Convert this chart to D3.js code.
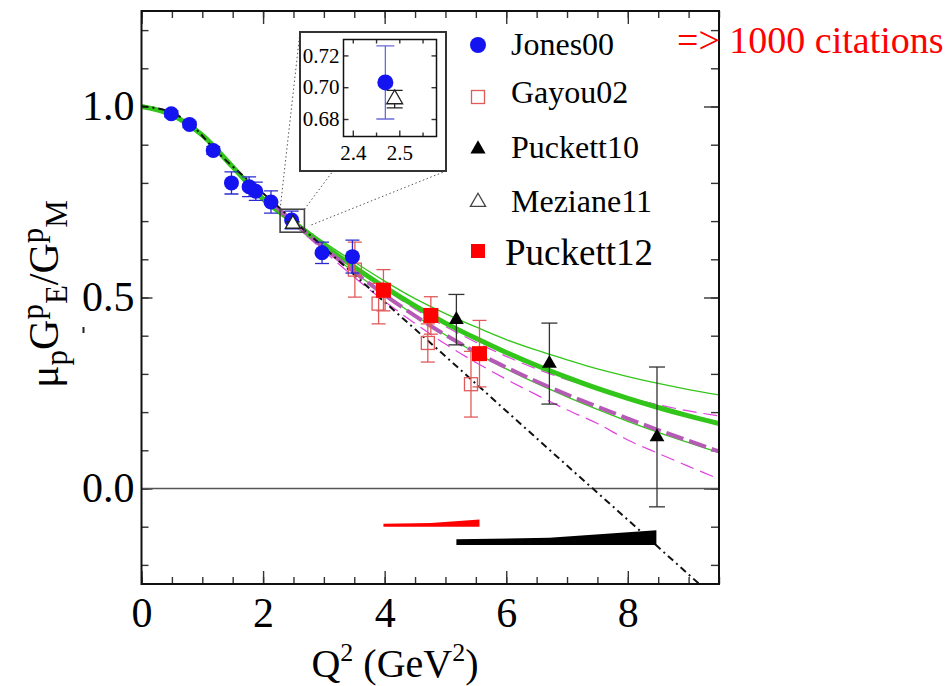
<!DOCTYPE html>
<html>
<head>
<meta charset="utf-8">
<script src="https://cdn.jsdelivr.net/npm/d3@7"></script>
<style>
body { margin: 0; background: #fff; }
svg { display: block; }
</style>
</head>
<body>
<div id="chart"></div>
<script>
// ---- data ----
const jonesQ2  = [0.49, 0.79, 1.18, 1.48, 1.77, 1.88, 2.13, 2.47, 2.97, 3.47];
const jonesR   = [0.981, 0.953, 0.885, 0.800, 0.790, 0.778, 0.750, 0.703, 0.617, 0.607];
const jonesErr = [0.008, 0.008, 0.010, 0.029, 0.026, 0.024, 0.029, 0.023, 0.028, 0.043];

const gayouQ2  = [3.51, 3.90, 4.71, 5.42];
const gayouR   = [0.573, 0.484, 0.381, 0.273];
const gayouErr = [0.072, 0.053, 0.050, 0.086];

const puck10Q2  = [5.18, 6.71, 8.48];
const puck10R   = [0.442, 0.327, 0.135];
const puck10Err = [0.066, 0.106, 0.183];

const mezQ2  = [2.49];
const mezR   = [0.6925];
const mezErr = [0.0055];

const puck12Q2  = [3.98, 4.76, 5.56];
const puck12R   = [0.519, 0.453, 0.353];
const puck12Err = [0.054, 0.049, 0.087];

// curves
const fitQ2      = [0, 0.5, 1, 1.5, 2, 2.5, 3, 3.5, 4, 4.5, 5, 5.5, 6, 6.5, 7, 7.5, 8, 8.5, 9, 9.5];
const greenFit   = [1.0, 0.978, 0.925, 0.842, 0.758, 0.697, 0.636, 0.580, 0.527, 0.478, 0.433, 0.393, 0.356, 0.322, 0.291, 0.262, 0.236, 0.212, 0.190, 0.170];
const greenUpper = [1.0, 0.978, 0.926, 0.845, 0.762, 0.703, 0.645, 0.593, 0.543, 0.497, 0.458, 0.423, 0.390, 0.362, 0.337, 0.313, 0.293, 0.275, 0.259, 0.245];
const greenLower = [1.0, 0.978, 0.924, 0.839, 0.754, 0.691, 0.627, 0.566, 0.508, 0.453, 0.402, 0.355, 0.313, 0.275, 0.240, 0.207, 0.176, 0.147, 0.120, 0.094];

const magQ2      = [2.2, 2.5, 3, 3.5, 4, 4.5, 5, 5.5, 6, 6.5, 7, 7.5, 8, 8.5, 9, 9.5];
const magFit     = [0.740, 0.697, 0.630, 0.567, 0.507, 0.452, 0.402, 0.357, 0.317, 0.280, 0.246, 0.214, 0.183, 0.153, 0.125, 0.097];
const magUpper   = [0.742, 0.700, 0.636, 0.577, 0.522, 0.470, 0.424, 0.383, 0.346, 0.313, 0.285, 0.260, 0.238, 0.219, 0.203, 0.190];
const magLower   = [0.738, 0.693, 0.622, 0.553, 0.490, 0.432, 0.378, 0.330, 0.286, 0.245, 0.206, 0.170, 0.127, 0.092, 0.058, 0.025];

const linQ2 = [0, 0.4, 0.8, 1.2, 2, 3, 4, 5, 6, 7, 8, 9, 9.5];
const linR  = [1.0, 0.990, 0.955, 0.888, 0.773, 0.631, 0.488, 0.346, 0.203, 0.060, -0.082, -0.225, -0.296];

// systematic bands
const redBandQ2  = [3.98, 4.76, 5.56];
const redBandTop = [-0.092, -0.090, -0.081];
const redBandBot = [-0.100, -0.100, -0.100];
const blkBandQ2  = [5.18, 6.71, 8.47];
const blkBandTop = [-0.133, -0.129, -0.109];
const blkBandBot = [-0.148, -0.148, -0.148];

// ticks
const xMajor = [0, 2, 4, 6, 8];
const xMinor = d3.range(0, 9.51, 0.5);
const yMajor = [0, 0.5, 1.0];
const yMinor = d3.range(-0.2, 1.21, 0.1);
const insetYTicks = [0.68, 0.70, 0.72];
const insetXTicks = [2.4, 2.5];
const insetXMinor = [2.45, 2.55];

const legendLabels = ["Jones00", "Gayou02", "Puckett10", "Meziane11", "Puckett12"];
const note = "=> 1000 citations";

// zoomed region and inset ranges
const zoomBoxQ2 = [2.28, 2.68];
const zoomBoxR  = [0.671, 0.731];
const insetQ2 = [2.38, 2.58];
const insetR  = [0.669, 0.73];

// ---- drawing ----
const SERIF = "Liberation Serif";
const W = 949, H = 686;
const svg = d3.select("#chart").append("svg")
    .attr("width", W)
    .attr("height", H)
    .attr("font-family", SERIF);

const x = d3.scaleLinear().domain([0, 9.5]).range([141.5, 719]);
const y = d3.scaleLinear().domain([-0.25, 1.25]).range([584, 11]);

const BLUE = "#1414f0", RED = "#ff0000", PINK = "#e05a5a";
const GREEN = "#33c61a", MAG = "#e040e0", MAGDK = "#b55ab5";

svg.append("clipPath").attr("id", "plotclip")
    .append("rect")
    .attr("x", x(0)).attr("y", y(1.25))
    .attr("width", x(9.5) - x(0)).attr("height", y(-0.25) - y(1.25));

// axes
function styleAxis(g) {
    g.attr("font-family", SERIF);
    g.select(".domain").remove();
    g.selectAll(".tick line").attr("stroke", "#333").attr("stroke-width", 1.4);
    g.selectAll("text").attr("fill", "#000").attr("font-family", SERIF);
}

svg.append("g").attr("transform", `translate(0,${y(-0.25)})`)
    .call(d3.axisBottom(x).tickValues(xMinor).tickSize(-7).tickFormat(""))
    .call(styleAxis);
svg.append("g").attr("transform", `translate(0,${y(-0.25)})`)
    .call(d3.axisBottom(x).tickValues(xMajor).tickSize(-13).tickPadding(13).tickFormat(d3.format("d")))
    .call(styleAxis)
    .selectAll("text").attr("font-size", 42);
svg.append("g").attr("transform", `translate(0,${y(1.25)})`)
    .call(d3.axisTop(x).tickValues(xMinor).tickSize(-7).tickFormat(""))
    .call(styleAxis);
svg.append("g").attr("transform", `translate(0,${y(1.25)})`)
    .call(d3.axisTop(x).tickValues(xMajor).tickSize(-13).tickFormat(""))
    .call(styleAxis);

svg.append("g").attr("transform", `translate(${x(0)},0)`)
    .call(d3.axisLeft(y).tickValues(yMinor).tickSize(-7).tickFormat(""))
    .call(styleAxis);
svg.append("g").attr("transform", `translate(${x(0)},0)`)
    .call(d3.axisLeft(y).tickValues(yMajor).tickSize(-11).tickPadding(7).tickFormat(d3.format(".1f")))
    .call(styleAxis)
    .selectAll("text").attr("font-size", 42);
svg.append("g").attr("transform", `translate(${x(9.5)},0)`)
    .call(d3.axisRight(y).tickValues(yMinor).tickSize(-8).tickFormat(""))
    .call(styleAxis);
svg.append("g").attr("transform", `translate(${x(9.5)},0)`)
    .call(d3.axisRight(y).tickValues(yMajor).tickSize(-15).tickFormat(""))
    .call(styleAxis);

// zero line
svg.append("line")
    .attr("x1", x(0)).attr("x2", x(9.5))
    .attr("y1", y(0)).attr("y2", y(0))
    .attr("stroke", "#555").attr("stroke-width", 1.3);

// curves
const plot = svg.append("g").attr("clip-path", "url(#plotclip)");

function curve(q2, r, stroke, width, dash) {
    const line = d3.line()
        .x((d, i) => x(q2[i]))
        .y(d => y(d))
        .curve(d3.curveMonotoneX);
    plot.append("path")
        .datum(r)
        .attr("fill", "none")
        .attr("stroke", stroke)
        .attr("stroke-width", width)
        .attr("stroke-dasharray", dash || null)
        .attr("d", line);
}

curve(fitQ2, greenUpper, GREEN, 1.3);
curve(fitQ2, greenLower, GREEN, 1.3);
curve(magQ2, magUpper, MAG, 1.2, "14,7");
curve(magQ2, magLower, MAG, 1.2, "14,7");
curve(fitQ2, greenFit, GREEN, 5);
curve(magQ2, magFit, MAGDK, 4, "18,6");
curve(linQ2, linR, "#111", 2, "7,4,2,4");

// bands
function band(q2, top, bot, fill) {
    const area = d3.area()
        .x((d, i) => x(q2[i]))
        .y0((d, i) => y(bot[i]))
        .y1(d => y(d));
    plot.append("path").datum(top).attr("fill", fill).attr("d", area);
}
band(redBandQ2, redBandTop, redBandBot, RED);
band(blkBandQ2, blkBandTop, blkBandBot, "#000");

// markers
const tri = d3.symbol().type(d3.symbolTriangle);

function series(g, xs, ys, q2, r, err, o) {
    const s = g.append("g");
    q2.forEach((q, i) => {
        const cx = xs(q);
        s.append("line")
            .attr("x1", cx).attr("x2", cx)
            .attr("y1", ys(r[i] - err[i])).attr("y2", ys(r[i] + err[i]))
            .attr("stroke", o.err).attr("stroke-width", 1.3);
        [r[i] - err[i], r[i] + err[i]].forEach(v => {
            s.append("line")
                .attr("x1", cx - o.cap).attr("x2", cx + o.cap)
                .attr("y1", ys(v)).attr("y2", ys(v))
                .attr("stroke", o.err).attr("stroke-width", 1.3);
        });
    });
    q2.forEach((q, i) => marker(s, xs(q), ys(r[i]), o));
}

function marker(s, cx, cy, o) {
    if (o.shape === "circle") {
        s.append("circle").attr("cx", cx).attr("cy", cy).attr("r", o.size).attr("fill", o.fill);
    } else if (o.shape === "square") {
        s.append("rect")
            .attr("x", cx - o.size).attr("y", cy - o.size)
            .attr("width", 2 * o.size).attr("height", 2 * o.size)
            .attr("fill", o.fill)
            .attr("stroke", o.stroke || "none")
            .attr("stroke-width", 1.3);
    } else {
        s.append("path")
            .attr("transform", `translate(${cx},${cy})`)
            .attr("d", tri.size(o.size)())
            .attr("fill", o.fill)
            .attr("stroke", o.stroke || "none")
            .attr("stroke-width", 1.3);
    }
}

const optJones  = {shape: "circle", size: 7.5, fill: BLUE, err: "#2a2ad0", cap: 7};
const optGayou  = {shape: "square", size: 6.5, fill: "none", stroke: PINK, err: PINK, cap: 7};
const optPuck10 = {shape: "tri", size: 95, fill: "#000", err: "#333", cap: 8};
const optMez    = {shape: "tri", size: 95, fill: "#fff", stroke: "#222", err: "#222", cap: 7};
const optPuck12 = {shape: "square", size: 7.5, fill: RED, err: PINK, cap: 7};

series(plot, x, y, gayouQ2, gayouR, gayouErr, optGayou);
series(plot, x, y, puck12Q2, puck12R, puck12Err, optPuck12);
series(plot, x, y, puck10Q2, puck10R, puck10Err, optPuck10);
series(plot, x, y, jonesQ2, jonesR, jonesErr, optJones);
series(plot, x, y, mezQ2, mezR, mezErr, optMez);

// frame
svg.append("rect")
    .attr("x", x(0)).attr("y", y(1.25))
    .attr("width", x(9.5) - x(0)).attr("height", y(-0.25) - y(1.25))
    .attr("fill", "none").attr("stroke", "#111").attr("stroke-width", 2);

// ---- zoom box and inset ----
const inset = {x0: 300, y0: 32, x1: 446, y1: 171};
const ix = d3.scaleLinear().domain(insetQ2).range([343.5, 436.5]);
const iy = d3.scaleLinear().domain(insetR).range([136.5, 39.5]);

svg.append("rect")
    .attr("x", x(zoomBoxQ2[0])).attr("y", y(zoomBoxR[1]))
    .attr("width", x(zoomBoxQ2[1]) - x(zoomBoxQ2[0]))
    .attr("height", y(zoomBoxR[0]) - y(zoomBoxR[1]))
    .attr("fill", "none").attr("stroke", "#444").attr("stroke-width", 1.6);

const links = [
    [x(zoomBoxQ2[0]), y(zoomBoxR[1]), inset.x0, inset.y0],
    [x(zoomBoxQ2[1]), y(zoomBoxR[1]), 333, inset.y1],
    [x(zoomBoxQ2[1]) + 7, y(0.69), inset.x1, inset.y1]
];
svg.append("g").selectAll("line").data(links).join("line")
    .attr("x1", d => d[0]).attr("y1", d => d[1])
    .attr("x2", d => d[2]).attr("y2", d => d[3])
    .attr("stroke", "#555").attr("stroke-width", 1)
    .attr("stroke-dasharray", "1.5,2.5");

const ig = svg.append("g");
ig.append("rect")
    .attr("x", inset.x0).attr("y", inset.y0)
    .attr("width", inset.x1 - inset.x0).attr("height", inset.y1 - inset.y0)
    .attr("fill", "#fff").attr("stroke", "#333").attr("stroke-width", 2);

ig.append("clipPath").attr("id", "insetclip")
    .append("rect")
    .attr("x", ix.range()[0]).attr("y", iy.range()[1])
    .attr("width", ix.range()[1] - ix.range()[0])
    .attr("height", iy.range()[0] - iy.range()[1]);

function insetAxes(g) {
    g.append("g").attr("transform", `translate(0,${iy.range()[0]})`)
        .call(d3.axisBottom(ix).tickValues(insetXTicks).tickSize(-6).tickPadding(9).tickFormat(d3.format(".1f")))
        .call(styleAxis).selectAll("text").attr("font-size", 21);
    g.append("g").attr("transform", `translate(0,${iy.range()[0]})`)
        .call(d3.axisBottom(ix).tickValues(insetXMinor).tickSize(-4).tickFormat(""))
        .call(styleAxis);
    g.append("g").attr("transform", `translate(0,${iy.range()[1]})`)
        .call(d3.axisTop(ix).tickValues(insetXTicks.concat(insetXMinor)).tickSize(-4).tickFormat(""))
        .call(styleAxis);
    g.append("g").attr("transform", `translate(${ix.range()[0]},0)`)
        .call(d3.axisLeft(iy).tickValues(insetYTicks).tickSize(-5).tickPadding(4).tickFormat(d3.format(".2f")))
        .call(styleAxis).selectAll("text").attr("font-size", 21);
    g.append("g").attr("transform", `translate(${ix.range()[1]},0)`)
        .call(d3.axisRight(iy).tickValues(insetYTicks).tickSize(-5).tickFormat(""))
        .call(styleAxis);
}
insetAxes(ig);

const iplot = ig.append("g").attr("clip-path", "url(#insetclip)");
series(iplot, ix, iy, jonesQ2, jonesR, jonesErr, Object.assign({}, optJones, {size: 8, err: "#6b6bd6", cap: 9}));
series(iplot, ix, iy, mezQ2, mezR, mezErr, Object.assign({}, optMez, {size: 110, cap: 8}));

ig.append("rect")
    .attr("x", ix.range()[0]).attr("y", iy.range()[1])
    .attr("width", ix.range()[1] - ix.range()[0])
    .attr("height", iy.range()[0] - iy.range()[1])
    .attr("fill", "none").attr("stroke", "#111").attr("stroke-width", 1.5);

// ---- legend ----
const legendOpts = [
    {shape: "circle", size: 8, fill: BLUE},
    {shape: "square", size: 6.5, fill: "none", stroke: PINK},
    {shape: "tri", size: 100, fill: "#000"},
    {shape: "tri", size: 100, fill: "#fff", stroke: "#444"},
    {shape: "square", size: 7, fill: RED}
];
const legendY = [45, 97, 149, 202, 251];
const legendBase = [55, 103, 158, 212, 265];
const lg = svg.append("g");
legendLabels.forEach((lab, i) => {
    marker(lg, 478, legendY[i], legendOpts[i]);
    lg.append("text")
        .attr("x", i === 4 ? 505 : 511)
        .attr("y", legendBase[i])
        .attr("font-size", i === 4 ? 37 : 32)
        .attr("font-family", SERIF)
        .attr("fill", "#000")
        .text(lab);
});

// red note
svg.append("text")
    .attr("x", 677).attr("y", 53)
    .attr("font-size", 38)
    .attr("font-family", SERIF)
    .attr("fill", RED)
    .text(note);

// ---- axis titles ----
const xt = svg.append("text")
    .attr("x", 395).attr("y", 677)
    .attr("text-anchor", "middle")
    .attr("font-family", SERIF)
    .attr("font-size", 40);
xt.append("tspan").text("Q");
xt.append("tspan").attr("font-size", 26).attr("dy", -16).text("2");
xt.append("tspan").attr("dy", 16).text(" (GeV");
xt.append("tspan").attr("font-size", 26).attr("dy", -16).text("2");
xt.append("tspan").attr("dy", 16).text(")");

const yt = svg.append("text")
    .attr("transform", "translate(58,294) rotate(-90)")
    .attr("text-anchor", "middle")
    .attr("font-family", SERIF)
    .attr("font-size", 42);
yt.append("tspan").text("\u03bc");
yt.append("tspan").attr("font-size", 31).attr("dy", 9).text("p");
yt.append("tspan").attr("dy", -9).text("G");
yt.append("tspan").attr("font-size", 31).attr("dy", -15).text("p");
yt.append("tspan").attr("font-size", 31).attr("dy", 24).text("E");
yt.append("tspan").attr("dy", -9).text("/G");
yt.append("tspan").attr("font-size", 31).attr("dy", -15).text("p");
yt.append("tspan").attr("font-size", 31).attr("dy", 24).text("M");

// small stray mark left of the axis
svg.append("rect").attr("x", 82.5).attr("y", 327).attr("width", 2).attr("height", 6).attr("fill", "#222");
</script>
</body>
</html>
